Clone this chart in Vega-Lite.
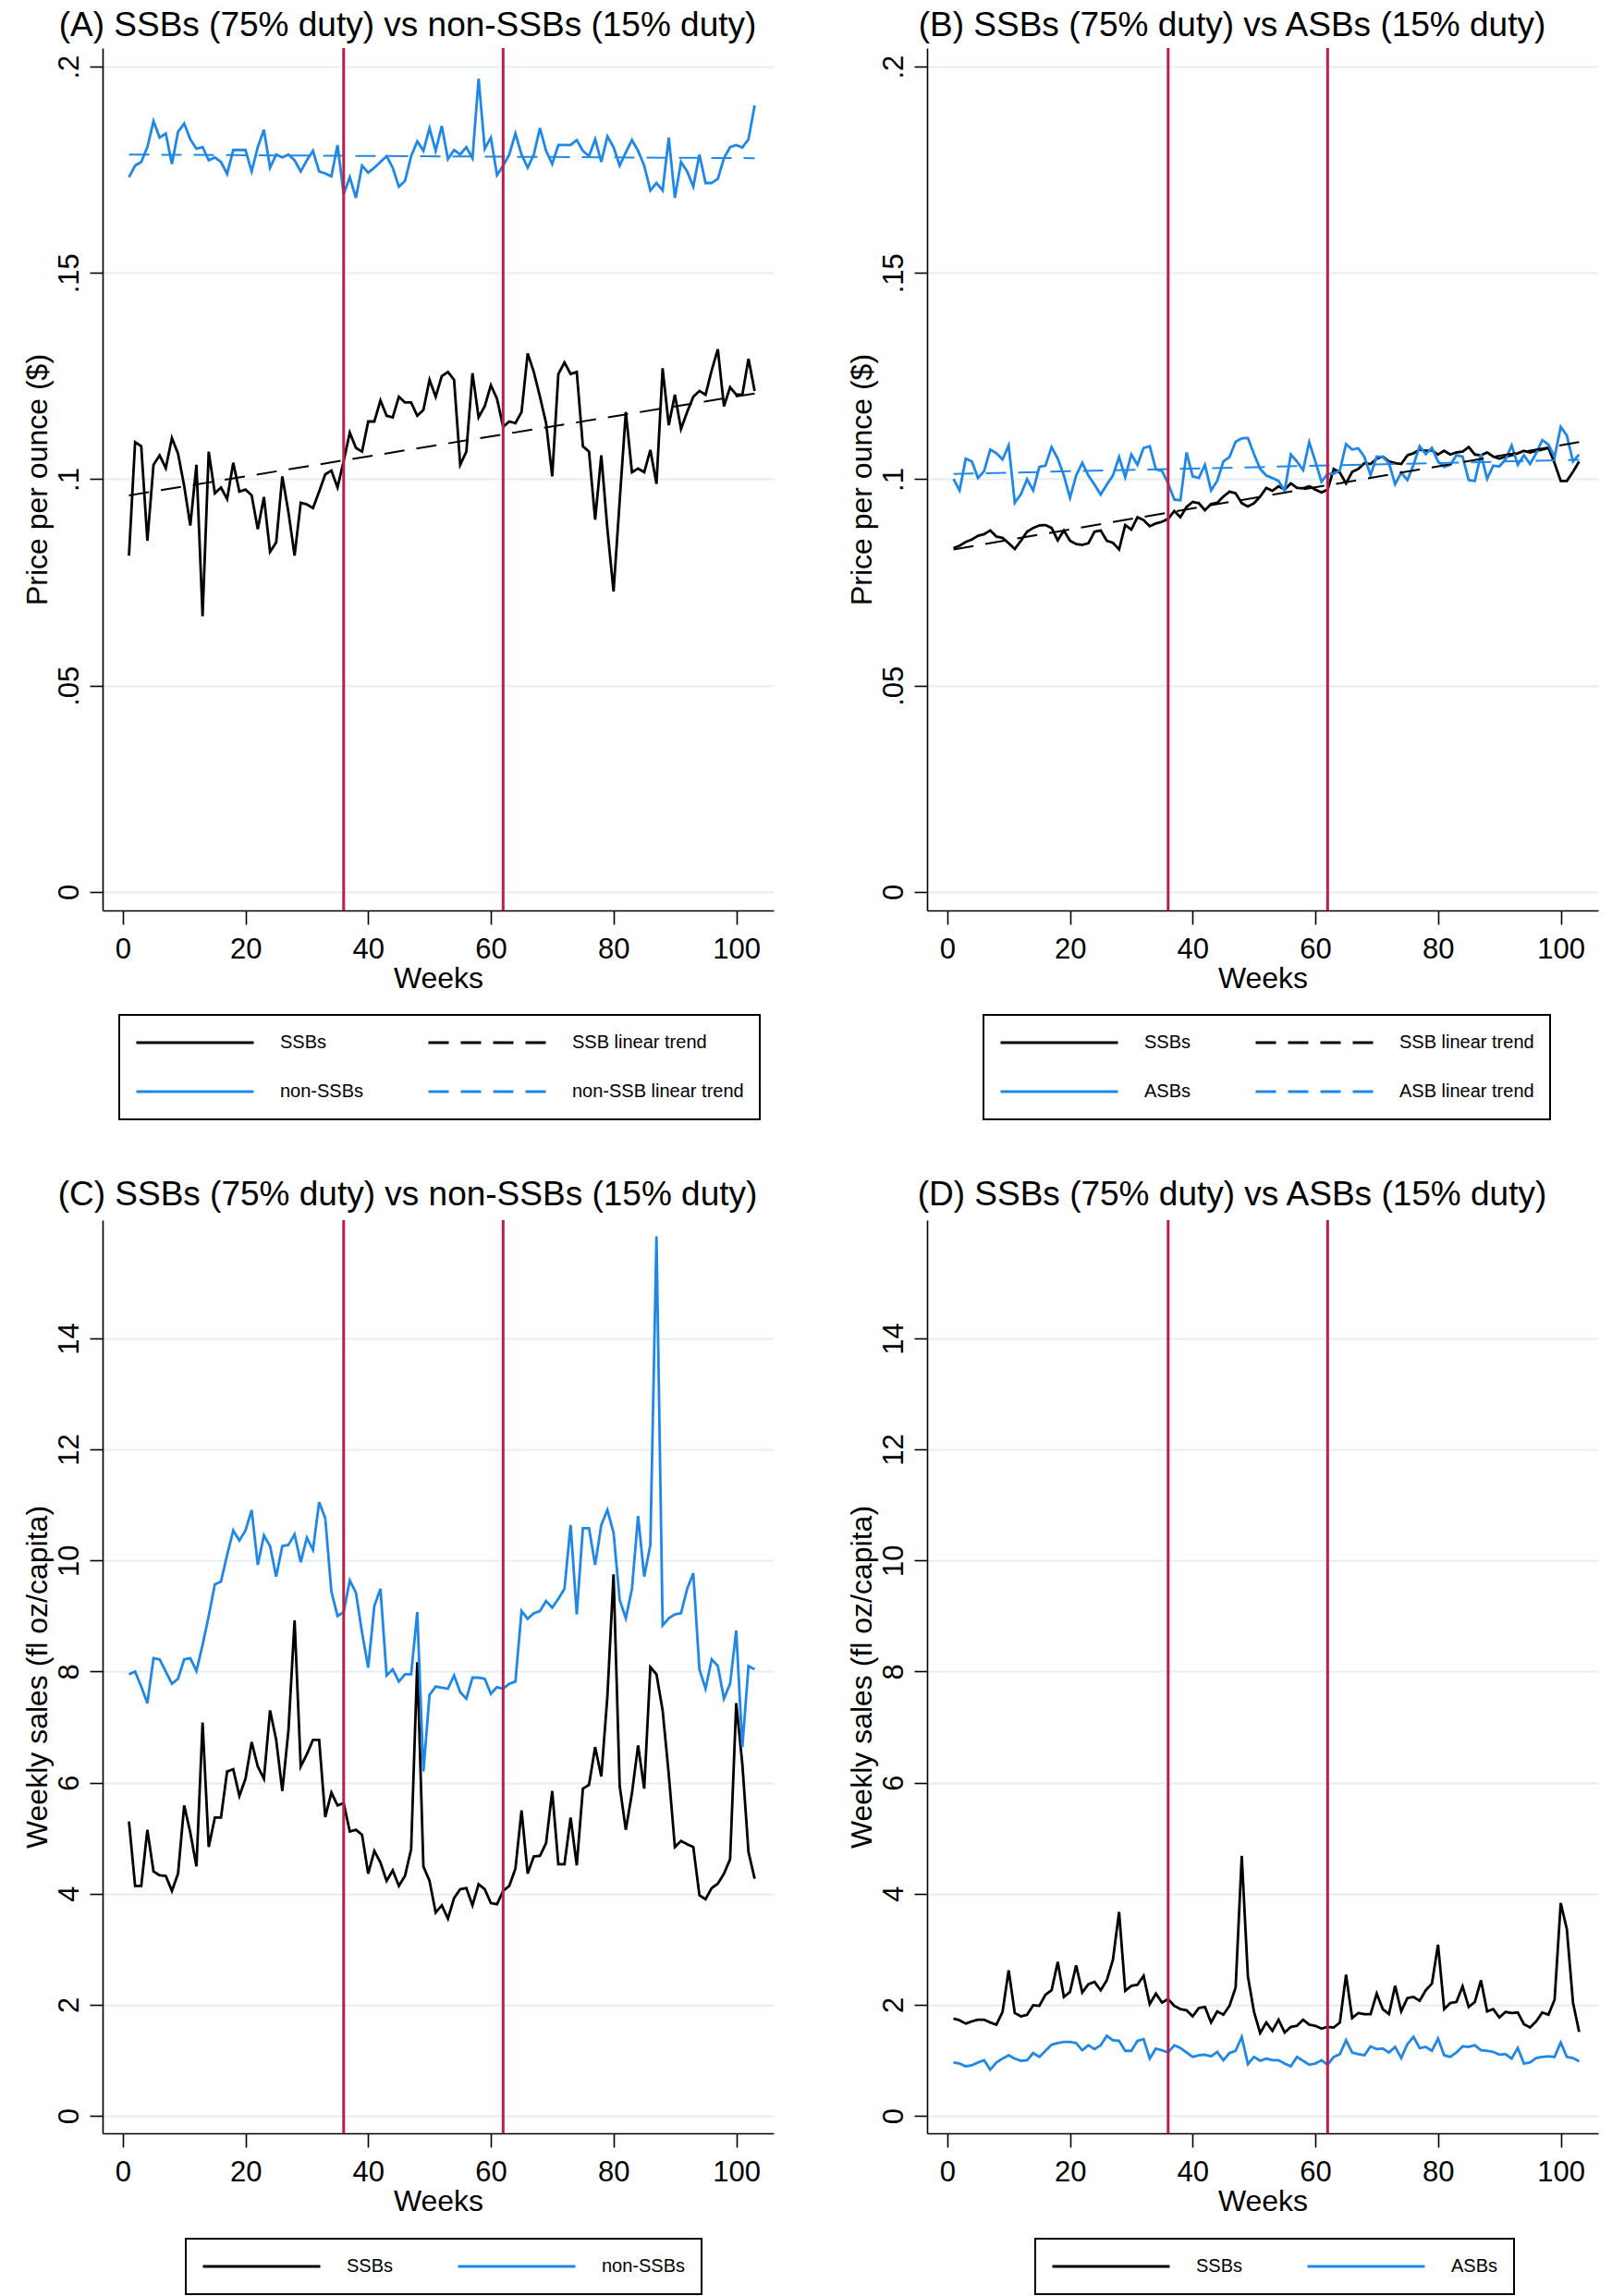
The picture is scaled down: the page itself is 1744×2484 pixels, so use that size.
{
"$schema":"https://vega.github.io/schema/vega-lite/v6.json",
"background":"white",
"padding":{"left":23,"top":8,"right":5,"bottom":2},
"columns":2,
"spacing":{"row":335,"column":166},
"bounds":"flush",
"resolve":{"scale":{"x":"independent","y":"independent","color":"independent","strokeDash":"independent"},"axis":{"x":"independent","y":"independent"},"legend":{"color":"independent","strokeDash":"independent"}},
"datasets":{
"vl":[{"w":36},{"w":62}],
"TA":[{"w":1,"s":"SSB linear trend","v":0.0961},{"w":103,"s":"SSB linear trend","v":0.1208},{"w":1,"s":"non-SSB linear trend","v":0.1787},{"w":103,"s":"non-SSB linear trend","v":0.1778}],
"TB":[{"w":1,"s":"SSB linear trend","v":0.0830},{"w":103,"s":"SSB linear trend","v":0.1090},{"w":1,"s":"ASB linear trend","v":0.1013},{"w":103,"s":"ASB linear trend","v":0.1047}],
"A":[
{"w":1,"s":"SSBs","v":0.0815},{"w":2,"s":"SSBs","v":0.109},{"w":3,"s":"SSBs","v":0.108},{"w":4,"s":"SSBs","v":0.0851},{"w":5,"s":"SSBs","v":0.1035},{"w":6,"s":"SSBs","v":0.1058},{"w":7,"s":"SSBs","v":0.1027},{"w":8,"s":"SSBs","v":0.110},{"w":9,"s":"SSBs","v":0.1062},{"w":10,"s":"SSBs","v":0.0984},
{"w":11,"s":"SSBs","v":0.0888},{"w":12,"s":"SSBs","v":0.1035},{"w":13,"s":"SSBs","v":0.0668},{"w":14,"s":"SSBs","v":0.1067},{"w":15,"s":"SSBs","v":0.0966},{"w":16,"s":"SSBs","v":0.098},{"w":17,"s":"SSBs","v":0.0952},{"w":18,"s":"SSBs","v":0.104},{"w":19,"s":"SSBs","v":0.097},{"w":20,"s":"SSBs","v":0.0975},
{"w":21,"s":"SSBs","v":0.0961},{"w":22,"s":"SSBs","v":0.0879},{"w":23,"s":"SSBs","v":0.0957},{"w":24,"s":"SSBs","v":0.0824},{"w":25,"s":"SSBs","v":0.0847},{"w":26,"s":"SSBs","v":0.1007},{"w":27,"s":"SSBs","v":0.092},{"w":28,"s":"SSBs","v":0.0815},{"w":29,"s":"SSBs","v":0.0943},{"w":30,"s":"SSBs","v":0.0939},
{"w":31,"s":"SSBs","v":0.093},{"w":32,"s":"SSBs","v":0.097},{"w":33,"s":"SSBs","v":0.1012},{"w":34,"s":"SSBs","v":0.1021},{"w":35,"s":"SSBs","v":0.098},{"w":36,"s":"SSBs","v":0.1044},{"w":37,"s":"SSBs","v":0.1113},{"w":38,"s":"SSBs","v":0.1076},{"w":39,"s":"SSBs","v":0.1067},{"w":40,"s":"SSBs","v":0.114},
{"w":41,"s":"SSBs","v":0.114},{"w":42,"s":"SSBs","v":0.1191},{"w":43,"s":"SSBs","v":0.1154},{"w":44,"s":"SSBs","v":0.115},{"w":45,"s":"SSBs","v":0.12},{"w":46,"s":"SSBs","v":0.1186},{"w":47,"s":"SSBs","v":0.1186},{"w":48,"s":"SSBs","v":0.1154},{"w":49,"s":"SSBs","v":0.1168},{"w":50,"s":"SSBs","v":0.1241},
{"w":51,"s":"SSBs","v":0.12},{"w":52,"s":"SSBs","v":0.125},{"w":53,"s":"SSBs","v":0.126},{"w":54,"s":"SSBs","v":0.1241},{"w":55,"s":"SSBs","v":0.1035},{"w":56,"s":"SSBs","v":0.1067},{"w":57,"s":"SSBs","v":0.1257},{"w":58,"s":"SSBs","v":0.115},{"w":59,"s":"SSBs","v":0.1177},{"w":60,"s":"SSBs","v":0.1228},
{"w":61,"s":"SSBs","v":0.1195},{"w":62,"s":"SSBs","v":0.1127},{"w":63,"s":"SSBs","v":0.114},{"w":64,"s":"SSBs","v":0.1136},{"w":65,"s":"SSBs","v":0.1163},{"w":66,"s":"SSBs","v":0.1305},{"w":67,"s":"SSBs","v":0.126},{"w":68,"s":"SSBs","v":0.12},{"w":69,"s":"SSBs","v":0.1136},{"w":70,"s":"SSBs","v":0.1007},
{"w":71,"s":"SSBs","v":0.1255},{"w":72,"s":"SSBs","v":0.1283},{"w":73,"s":"SSBs","v":0.1255},{"w":74,"s":"SSBs","v":0.126},{"w":75,"s":"SSBs","v":0.108},{"w":76,"s":"SSBs","v":0.1067},{"w":77,"s":"SSBs","v":0.0902},{"w":78,"s":"SSBs","v":0.1058},{"w":79,"s":"SSBs","v":0.0879},{"w":80,"s":"SSBs","v":0.0728},
{"w":81,"s":"SSBs","v":0.0948},{"w":82,"s":"SSBs","v":0.1163},{"w":83,"s":"SSBs","v":0.1017},{"w":84,"s":"SSBs","v":0.1026},{"w":85,"s":"SSBs","v":0.1017},{"w":86,"s":"SSBs","v":0.1071},{"w":87,"s":"SSBs","v":0.0989},{"w":88,"s":"SSBs","v":0.1269},{"w":89,"s":"SSBs","v":0.1131},{"w":90,"s":"SSBs","v":0.1205},
{"w":91,"s":"SSBs","v":0.1122},{"w":92,"s":"SSBs","v":0.1163},{"w":93,"s":"SSBs","v":0.12},{"w":94,"s":"SSBs","v":0.1214},{"w":95,"s":"SSBs","v":0.1205},{"w":96,"s":"SSBs","v":0.1264},{"w":97,"s":"SSBs","v":0.1315},{"w":98,"s":"SSBs","v":0.1177},{"w":99,"s":"SSBs","v":0.1223},{"w":100,"s":"SSBs","v":0.1205},
{"w":101,"s":"SSBs","v":0.1205},{"w":102,"s":"SSBs","v":0.1292},{"w":103,"s":"SSBs","v":0.1214},
{"w":1,"s":"non-SSBs","v":0.1732},{"w":2,"s":"non-SSBs","v":0.176},{"w":3,"s":"non-SSBs","v":0.1769},{"w":4,"s":"non-SSBs","v":0.1805},{"w":5,"s":"non-SSBs","v":0.1868},{"w":6,"s":"non-SSBs","v":0.1828},{"w":7,"s":"non-SSBs","v":0.1838},{"w":8,"s":"non-SSBs","v":0.1764},{"w":9,"s":"non-SSBs","v":0.1842},{"w":10,"s":"non-SSBs","v":0.1862},
{"w":11,"s":"non-SSBs","v":0.1824},{"w":12,"s":"non-SSBs","v":0.1801},{"w":13,"s":"non-SSBs","v":0.1805},{"w":14,"s":"non-SSBs","v":0.1773},{"w":15,"s":"non-SSBs","v":0.178},{"w":16,"s":"non-SSBs","v":0.1769},{"w":17,"s":"non-SSBs","v":0.174},{"w":18,"s":"non-SSBs","v":0.1798},{"w":19,"s":"non-SSBs","v":0.1798},{"w":20,"s":"non-SSBs","v":0.1798},
{"w":21,"s":"non-SSBs","v":0.1746},{"w":22,"s":"non-SSBs","v":0.1805},{"w":23,"s":"non-SSBs","v":0.1847},{"w":24,"s":"non-SSBs","v":0.1755},{"w":25,"s":"non-SSBs","v":0.1787},{"w":26,"s":"non-SSBs","v":0.178},{"w":27,"s":"non-SSBs","v":0.1787},{"w":28,"s":"non-SSBs","v":0.1773},{"w":29,"s":"non-SSBs","v":0.1746},{"w":30,"s":"non-SSBs","v":0.1773},
{"w":31,"s":"non-SSBs","v":0.1796},{"w":32,"s":"non-SSBs","v":0.1746},{"w":33,"s":"non-SSBs","v":0.1741},{"w":34,"s":"non-SSBs","v":0.1734},{"w":35,"s":"non-SSBs","v":0.181},{"w":36,"s":"non-SSBs","v":0.1691},{"w":37,"s":"non-SSBs","v":0.1732},{"w":38,"s":"non-SSBs","v":0.1682},{"w":39,"s":"non-SSBs","v":0.176},{"w":40,"s":"non-SSBs","v":0.1743},
{"w":41,"s":"non-SSBs","v":0.1755},{"w":42,"s":"non-SSBs","v":0.1769},{"w":43,"s":"non-SSBs","v":0.1783},{"w":44,"s":"non-SSBs","v":0.1755},{"w":45,"s":"non-SSBs","v":0.1709},{"w":46,"s":"non-SSBs","v":0.1723},{"w":47,"s":"non-SSBs","v":0.1783},{"w":48,"s":"non-SSBs","v":0.1819},{"w":49,"s":"non-SSBs","v":0.1796},{"w":50,"s":"non-SSBs","v":0.1851},
{"w":51,"s":"non-SSBs","v":0.1796},{"w":52,"s":"non-SSBs","v":0.1856},{"w":53,"s":"non-SSBs","v":0.1776},{"w":54,"s":"non-SSBs","v":0.1798},{"w":55,"s":"non-SSBs","v":0.1787},{"w":56,"s":"non-SSBs","v":0.1805},{"w":57,"s":"non-SSBs","v":0.1778},{"w":58,"s":"non-SSBs","v":0.1971},{"w":59,"s":"non-SSBs","v":0.1801},{"w":60,"s":"non-SSBs","v":0.1828},
{"w":61,"s":"non-SSBs","v":0.1737},{"w":62,"s":"non-SSBs","v":0.176},{"w":63,"s":"non-SSBs","v":0.1787},{"w":64,"s":"non-SSBs","v":0.1838},{"w":65,"s":"non-SSBs","v":0.1787},{"w":66,"s":"non-SSBs","v":0.1755},{"w":67,"s":"non-SSBs","v":0.1787},{"w":68,"s":"non-SSBs","v":0.1851},{"w":69,"s":"non-SSBs","v":0.1796},{"w":70,"s":"non-SSBs","v":0.1764},
{"w":71,"s":"non-SSBs","v":0.181},{"w":72,"s":"non-SSBs","v":0.181},{"w":73,"s":"non-SSBs","v":0.181},{"w":74,"s":"non-SSBs","v":0.1822},{"w":75,"s":"non-SSBs","v":0.1796},{"w":76,"s":"non-SSBs","v":0.1783},{"w":77,"s":"non-SSBs","v":0.1824},{"w":78,"s":"non-SSBs","v":0.1769},{"w":79,"s":"non-SSBs","v":0.1831},{"w":80,"s":"non-SSBs","v":0.1805},
{"w":81,"s":"non-SSBs","v":0.176},{"w":82,"s":"non-SSBs","v":0.1792},{"w":83,"s":"non-SSBs","v":0.1822},{"w":84,"s":"non-SSBs","v":0.1796},{"w":85,"s":"non-SSBs","v":0.176},{"w":86,"s":"non-SSBs","v":0.17},{"w":87,"s":"non-SSBs","v":0.1718},{"w":88,"s":"non-SSBs","v":0.17},{"w":89,"s":"non-SSBs","v":0.1828},{"w":90,"s":"non-SSBs","v":0.1682},
{"w":91,"s":"non-SSBs","v":0.1769},{"w":92,"s":"non-SSBs","v":0.1746},{"w":93,"s":"non-SSBs","v":0.1709},{"w":94,"s":"non-SSBs","v":0.1787},{"w":95,"s":"non-SSBs","v":0.1718},{"w":96,"s":"non-SSBs","v":0.1718},{"w":97,"s":"non-SSBs","v":0.1728},{"w":98,"s":"non-SSBs","v":0.1778},{"w":99,"s":"non-SSBs","v":0.1805},{"w":100,"s":"non-SSBs","v":0.181},
{"w":101,"s":"non-SSBs","v":0.1804},{"w":102,"s":"non-SSBs","v":0.1824},{"w":103,"s":"non-SSBs","v":0.1906}
],
"B":[
{"w":1,"s":"SSBs","v":0.0833},{"w":2,"s":"SSBs","v":0.0839},{"w":3,"s":"SSBs","v":0.0848},{"w":4,"s":"SSBs","v":0.0854},{"w":5,"s":"SSBs","v":0.0863},{"w":6,"s":"SSBs","v":0.0867},{"w":7,"s":"SSBs","v":0.0876},{"w":8,"s":"SSBs","v":0.0861},{"w":9,"s":"SSBs","v":0.0858},{"w":10,"s":"SSBs","v":0.0845},
{"w":11,"s":"SSBs","v":0.0831},{"w":12,"s":"SSBs","v":0.0851},{"w":13,"s":"SSBs","v":0.0873},{"w":14,"s":"SSBs","v":0.0882},{"w":15,"s":"SSBs","v":0.0888},{"w":16,"s":"SSBs","v":0.0889},{"w":17,"s":"SSBs","v":0.0882},{"w":18,"s":"SSBs","v":0.0852},{"w":19,"s":"SSBs","v":0.0876},{"w":20,"s":"SSBs","v":0.0851},
{"w":21,"s":"SSBs","v":0.0843},{"w":22,"s":"SSBs","v":0.0841},{"w":23,"s":"SSBs","v":0.0845},{"w":24,"s":"SSBs","v":0.0873},{"w":25,"s":"SSBs","v":0.0876},{"w":26,"s":"SSBs","v":0.0851},{"w":27,"s":"SSBs","v":0.0846},{"w":28,"s":"SSBs","v":0.083},{"w":29,"s":"SSBs","v":0.0889},{"w":30,"s":"SSBs","v":0.0878},
{"w":31,"s":"SSBs","v":0.0908},{"w":32,"s":"SSBs","v":0.0901},{"w":33,"s":"SSBs","v":0.0886},{"w":34,"s":"SSBs","v":0.0893},{"w":35,"s":"SSBs","v":0.0897},{"w":36,"s":"SSBs","v":0.0904},{"w":37,"s":"SSBs","v":0.0923},{"w":38,"s":"SSBs","v":0.0908},{"w":39,"s":"SSBs","v":0.0933},{"w":40,"s":"SSBs","v":0.0945},
{"w":41,"s":"SSBs","v":0.0942},{"w":42,"s":"SSBs","v":0.0925},{"w":43,"s":"SSBs","v":0.094},{"w":44,"s":"SSBs","v":0.0943},{"w":45,"s":"SSBs","v":0.0958},{"w":46,"s":"SSBs","v":0.097},{"w":47,"s":"SSBs","v":0.0966},{"w":48,"s":"SSBs","v":0.0942},{"w":49,"s":"SSBs","v":0.0934},{"w":50,"s":"SSBs","v":0.0942},
{"w":51,"s":"SSBs","v":0.0958},{"w":52,"s":"SSBs","v":0.0979},{"w":53,"s":"SSBs","v":0.0972},{"w":54,"s":"SSBs","v":0.0983},{"w":55,"s":"SSBs","v":0.0975},{"w":56,"s":"SSBs","v":0.099},{"w":57,"s":"SSBs","v":0.0979},{"w":58,"s":"SSBs","v":0.0978},{"w":59,"s":"SSBs","v":0.0983},{"w":60,"s":"SSBs","v":0.0975},
{"w":61,"s":"SSBs","v":0.0968},{"w":62,"s":"SSBs","v":0.0975},{"w":63,"s":"SSBs","v":0.1025},{"w":64,"s":"SSBs","v":0.1016},{"w":65,"s":"SSBs","v":0.099},{"w":66,"s":"SSBs","v":0.1018},{"w":67,"s":"SSBs","v":0.1025},{"w":68,"s":"SSBs","v":0.1039},{"w":69,"s":"SSBs","v":0.1037},{"w":70,"s":"SSBs","v":0.105},
{"w":71,"s":"SSBs","v":0.1055},{"w":72,"s":"SSBs","v":0.1043},{"w":73,"s":"SSBs","v":0.1039},{"w":74,"s":"SSBs","v":0.1037},{"w":75,"s":"SSBs","v":0.1058},{"w":76,"s":"SSBs","v":0.1063},{"w":77,"s":"SSBs","v":0.1072},{"w":78,"s":"SSBs","v":0.1069},{"w":79,"s":"SSBs","v":0.107},{"w":80,"s":"SSBs","v":0.106},
{"w":81,"s":"SSBs","v":0.1069},{"w":82,"s":"SSBs","v":0.106},{"w":83,"s":"SSBs","v":0.1065},{"w":84,"s":"SSBs","v":0.1067},{"w":85,"s":"SSBs","v":0.1078},{"w":86,"s":"SSBs","v":0.106},{"w":87,"s":"SSBs","v":0.1058},{"w":88,"s":"SSBs","v":0.1065},{"w":89,"s":"SSBs","v":0.1055},{"w":90,"s":"SSBs","v":0.105},
{"w":91,"s":"SSBs","v":0.1055},{"w":92,"s":"SSBs","v":0.1058},{"w":93,"s":"SSBs","v":0.1063},{"w":94,"s":"SSBs","v":0.1069},{"w":95,"s":"SSBs","v":0.1065},{"w":96,"s":"SSBs","v":0.1069},{"w":97,"s":"SSBs","v":0.1072},{"w":98,"s":"SSBs","v":0.1076},{"w":99,"s":"SSBs","v":0.1039},{"w":100,"s":"SSBs","v":0.0996},
{"w":101,"s":"SSBs","v":0.0996},{"w":102,"s":"SSBs","v":0.1018},{"w":103,"s":"SSBs","v":0.1043},
{"w":1,"s":"ASBs","v":0.1001},{"w":2,"s":"ASBs","v":0.0973},{"w":3,"s":"ASBs","v":0.105},{"w":4,"s":"ASBs","v":0.1043},{"w":5,"s":"ASBs","v":0.1003},{"w":6,"s":"ASBs","v":0.102},{"w":7,"s":"ASBs","v":0.1072},{"w":8,"s":"ASBs","v":0.1063},{"w":9,"s":"ASBs","v":0.1048},{"w":10,"s":"ASBs","v":0.1082},
{"w":11,"s":"ASBs","v":0.0943},{"w":12,"s":"ASBs","v":0.0964},{"w":13,"s":"ASBs","v":0.1},{"w":14,"s":"ASBs","v":0.0973},{"w":15,"s":"ASBs","v":0.103},{"w":16,"s":"ASBs","v":0.1033},{"w":17,"s":"ASBs","v":0.1078},{"w":18,"s":"ASBs","v":0.105},{"w":19,"s":"ASBs","v":0.1009},{"w":20,"s":"ASBs","v":0.0955},
{"w":21,"s":"ASBs","v":0.1009},{"w":22,"s":"ASBs","v":0.104},{"w":23,"s":"ASBs","v":0.1009},{"w":24,"s":"ASBs","v":0.0987},{"w":25,"s":"ASBs","v":0.0963},{"w":26,"s":"ASBs","v":0.0987},{"w":27,"s":"ASBs","v":0.1009},{"w":28,"s":"ASBs","v":0.1054},{"w":29,"s":"ASBs","v":0.1005},{"w":30,"s":"ASBs","v":0.106},
{"w":31,"s":"ASBs","v":0.1035},{"w":32,"s":"ASBs","v":0.1076},{"w":33,"s":"ASBs","v":0.108},{"w":34,"s":"ASBs","v":0.1024},{"w":35,"s":"ASBs","v":0.102},{"w":36,"s":"ASBs","v":0.099},{"w":37,"s":"ASBs","v":0.0951},{"w":38,"s":"ASBs","v":0.0949},{"w":39,"s":"ASBs","v":0.1065},{"w":40,"s":"ASBs","v":0.1007},
{"w":41,"s":"ASBs","v":0.1003},{"w":42,"s":"ASBs","v":0.1035},{"w":43,"s":"ASBs","v":0.0973},{"w":44,"s":"ASBs","v":0.0996},{"w":45,"s":"ASBs","v":0.1043},{"w":46,"s":"ASBs","v":0.1054},{"w":47,"s":"ASBs","v":0.1091},{"w":48,"s":"ASBs","v":0.1099},{"w":49,"s":"ASBs","v":0.11},{"w":50,"s":"ASBs","v":0.1061},
{"w":51,"s":"ASBs","v":0.1025},{"w":52,"s":"ASBs","v":0.1009},{"w":53,"s":"ASBs","v":0.1003},{"w":54,"s":"ASBs","v":0.0996},{"w":55,"s":"ASBs","v":0.0972},{"w":56,"s":"ASBs","v":0.106},{"w":57,"s":"ASBs","v":0.1043},{"w":58,"s":"ASBs","v":0.1022},{"w":59,"s":"ASBs","v":0.109},{"w":60,"s":"ASBs","v":0.1043},
{"w":61,"s":"ASBs","v":0.0994},{"w":62,"s":"ASBs","v":0.1013},{"w":63,"s":"ASBs","v":0.1013},{"w":64,"s":"ASBs","v":0.1022},{"w":65,"s":"ASBs","v":0.1085},{"w":66,"s":"ASBs","v":0.1072},{"w":67,"s":"ASBs","v":0.1075},{"w":68,"s":"ASBs","v":0.1054},{"w":69,"s":"ASBs","v":0.101},{"w":70,"s":"ASBs","v":0.1055},
{"w":71,"s":"ASBs","v":0.1054},{"w":72,"s":"ASBs","v":0.1039},{"w":73,"s":"ASBs","v":0.0988},{"w":74,"s":"ASBs","v":0.1016},{"w":75,"s":"ASBs","v":0.0998},{"w":76,"s":"ASBs","v":0.1035},{"w":77,"s":"ASBs","v":0.108},{"w":78,"s":"ASBs","v":0.1061},{"w":79,"s":"ASBs","v":0.1076},{"w":80,"s":"ASBs","v":0.1043},
{"w":81,"s":"ASBs","v":0.103},{"w":82,"s":"ASBs","v":0.1035},{"w":83,"s":"ASBs","v":0.1058},{"w":84,"s":"ASBs","v":0.1055},{"w":85,"s":"ASBs","v":0.0998},{"w":86,"s":"ASBs","v":0.0996},{"w":87,"s":"ASBs","v":0.1061},{"w":88,"s":"ASBs","v":0.1001},{"w":89,"s":"ASBs","v":0.1033},{"w":90,"s":"ASBs","v":0.1031},
{"w":91,"s":"ASBs","v":0.1048},{"w":92,"s":"ASBs","v":0.1082},{"w":93,"s":"ASBs","v":0.1035},{"w":94,"s":"ASBs","v":0.1058},{"w":95,"s":"ASBs","v":0.1037},{"w":96,"s":"ASBs","v":0.1063},{"w":97,"s":"ASBs","v":0.1095},{"w":98,"s":"ASBs","v":0.1084},{"w":99,"s":"ASBs","v":0.1054},{"w":100,"s":"ASBs","v":0.1127},
{"w":101,"s":"ASBs","v":0.1106},{"w":102,"s":"ASBs","v":0.1043},{"w":103,"s":"ASBs","v":0.106}
],
"C":[
{"w":1,"s":"SSBs","v":5.30},{"w":2,"s":"SSBs","v":4.14},{"w":3,"s":"SSBs","v":4.14},{"w":4,"s":"SSBs","v":5.15},{"w":5,"s":"SSBs","v":4.40},{"w":6,"s":"SSBs","v":4.33},{"w":7,"s":"SSBs","v":4.32},{"w":8,"s":"SSBs","v":4.05},{"w":9,"s":"SSBs","v":4.36},{"w":10,"s":"SSBs","v":5.59},
{"w":11,"s":"SSBs","v":5.10},{"w":12,"s":"SSBs","v":4.49},{"w":13,"s":"SSBs","v":7.08},{"w":14,"s":"SSBs","v":4.84},{"w":15,"s":"SSBs","v":5.37},{"w":16,"s":"SSBs","v":5.37},{"w":17,"s":"SSBs","v":6.20},{"w":18,"s":"SSBs","v":6.24},{"w":19,"s":"SSBs","v":5.76},{"w":20,"s":"SSBs","v":6.07},
{"w":21,"s":"SSBs","v":6.73},{"w":22,"s":"SSBs","v":6.29},{"w":23,"s":"SSBs","v":6.07},{"w":24,"s":"SSBs","v":7.30},{"w":25,"s":"SSBs","v":6.77},{"w":26,"s":"SSBs","v":5.85},{"w":27,"s":"SSBs","v":6.94},{"w":28,"s":"SSBs","v":8.92},{"w":29,"s":"SSBs","v":6.29},{"w":30,"s":"SSBs","v":6.51},
{"w":31,"s":"SSBs","v":6.77},{"w":32,"s":"SSBs","v":6.77},{"w":33,"s":"SSBs","v":5.38},{"w":34,"s":"SSBs","v":5.82},{"w":35,"s":"SSBs","v":5.59},{"w":36,"s":"SSBs","v":5.63},{"w":37,"s":"SSBs","v":5.12},{"w":38,"s":"SSBs","v":5.15},{"w":39,"s":"SSBs","v":5.06},{"w":40,"s":"SSBs","v":4.36},
{"w":41,"s":"SSBs","v":4.77},{"w":42,"s":"SSBs","v":4.56},{"w":43,"s":"SSBs","v":4.23},{"w":44,"s":"SSBs","v":4.42},{"w":45,"s":"SSBs","v":4.14},{"w":46,"s":"SSBs","v":4.32},{"w":47,"s":"SSBs","v":4.80},{"w":48,"s":"SSBs","v":8.17},{"w":49,"s":"SSBs","v":4.49},{"w":50,"s":"SSBs","v":4.23},
{"w":51,"s":"SSBs","v":3.66},{"w":52,"s":"SSBs","v":3.79},{"w":53,"s":"SSBs","v":3.55},{"w":54,"s":"SSBs","v":3.92},{"w":55,"s":"SSBs","v":4.08},{"w":56,"s":"SSBs","v":4.10},{"w":57,"s":"SSBs","v":3.79},{"w":58,"s":"SSBs","v":4.17},{"w":59,"s":"SSBs","v":4.08},{"w":60,"s":"SSBs","v":3.83},
{"w":61,"s":"SSBs","v":3.81},{"w":62,"s":"SSBs","v":4.05},{"w":63,"s":"SSBs","v":4.14},{"w":64,"s":"SSBs","v":4.45},{"w":65,"s":"SSBs","v":5.50},{"w":66,"s":"SSBs","v":4.36},{"w":67,"s":"SSBs","v":4.67},{"w":68,"s":"SSBs","v":4.68},{"w":69,"s":"SSBs","v":4.91},{"w":70,"s":"SSBs","v":5.85},
{"w":71,"s":"SSBs","v":4.53},{"w":72,"s":"SSBs","v":4.53},{"w":73,"s":"SSBs","v":5.37},{"w":74,"s":"SSBs","v":4.51},{"w":75,"s":"SSBs","v":5.89},{"w":76,"s":"SSBs","v":5.96},{"w":77,"s":"SSBs","v":6.64},{"w":78,"s":"SSBs","v":6.11},{"w":79,"s":"SSBs","v":7.56},{"w":80,"s":"SSBs","v":9.75},
{"w":81,"s":"SSBs","v":5.94},{"w":82,"s":"SSBs","v":5.15},{"w":83,"s":"SSBs","v":5.81},{"w":84,"s":"SSBs","v":6.67},{"w":85,"s":"SSBs","v":5.89},{"w":86,"s":"SSBs","v":8.08},{"w":87,"s":"SSBs","v":7.95},{"w":88,"s":"SSBs","v":7.30},{"w":89,"s":"SSBs","v":6.15},{"w":90,"s":"SSBs","v":4.84},
{"w":91,"s":"SSBs","v":4.95},{"w":92,"s":"SSBs","v":4.89},{"w":93,"s":"SSBs","v":4.84},{"w":94,"s":"SSBs","v":3.97},{"w":95,"s":"SSBs","v":3.90},{"w":96,"s":"SSBs","v":4.10},{"w":97,"s":"SSBs","v":4.18},{"w":98,"s":"SSBs","v":4.36},{"w":99,"s":"SSBs","v":4.62},{"w":100,"s":"SSBs","v":7.43},
{"w":101,"s":"SSBs","v":6.33},{"w":102,"s":"SSBs","v":4.75},{"w":103,"s":"SSBs","v":4.27},
{"w":1,"s":"non-SSBs","v":7.95},{"w":2,"s":"non-SSBs","v":8.0},{"w":3,"s":"non-SSBs","v":7.73},{"w":4,"s":"non-SSBs","v":7.43},{"w":5,"s":"non-SSBs","v":8.24},{"w":6,"s":"non-SSBs","v":8.22},{"w":7,"s":"non-SSBs","v":8.0},{"w":8,"s":"non-SSBs","v":7.78},{"w":9,"s":"non-SSBs","v":7.87},{"w":10,"s":"non-SSBs","v":8.22},
{"w":11,"s":"non-SSBs","v":8.24},{"w":12,"s":"non-SSBs","v":8.01},{"w":13,"s":"non-SSBs","v":8.48},{"w":14,"s":"non-SSBs","v":9.0},{"w":15,"s":"non-SSBs","v":9.57},{"w":16,"s":"non-SSBs","v":9.62},{"w":17,"s":"non-SSBs","v":10.1},{"w":18,"s":"non-SSBs","v":10.54},{"w":19,"s":"non-SSBs","v":10.36},{"w":20,"s":"non-SSBs","v":10.54},
{"w":21,"s":"non-SSBs","v":10.91},{"w":22,"s":"non-SSBs","v":9.92},{"w":23,"s":"non-SSBs","v":10.45},{"w":24,"s":"non-SSBs","v":10.26},{"w":25,"s":"non-SSBs","v":9.71},{"w":26,"s":"non-SSBs","v":10.26},{"w":27,"s":"non-SSBs","v":10.28},{"w":28,"s":"non-SSBs","v":10.47},{"w":29,"s":"non-SSBs","v":9.97},{"w":30,"s":"non-SSBs","v":10.41},
{"w":31,"s":"non-SSBs","v":10.19},{"w":32,"s":"non-SSBs","v":11.05},{"w":33,"s":"non-SSBs","v":10.76},{"w":34,"s":"non-SSBs","v":9.44},{"w":35,"s":"non-SSBs","v":9.0},{"w":36,"s":"non-SSBs","v":9.07},{"w":37,"s":"non-SSBs","v":9.64},{"w":38,"s":"non-SSBs","v":9.42},{"w":39,"s":"non-SSBs","v":8.70},{"w":40,"s":"non-SSBs","v":8.07},
{"w":41,"s":"non-SSBs","v":9.18},{"w":42,"s":"non-SSBs","v":9.49},{"w":43,"s":"non-SSBs","v":7.93},{"w":44,"s":"non-SSBs","v":8.04},{"w":45,"s":"non-SSBs","v":7.82},{"w":46,"s":"non-SSBs","v":7.95},{"w":47,"s":"non-SSBs","v":7.95},{"w":48,"s":"non-SSBs","v":9.07},{"w":49,"s":"non-SSBs","v":6.20},{"w":50,"s":"non-SSBs","v":7.58},
{"w":51,"s":"non-SSBs","v":7.73},{"w":52,"s":"non-SSBs","v":7.71},{"w":53,"s":"non-SSBs","v":7.69},{"w":54,"s":"non-SSBs","v":7.93},{"w":55,"s":"non-SSBs","v":7.63},{"w":56,"s":"non-SSBs","v":7.51},{"w":57,"s":"non-SSBs","v":7.89},{"w":58,"s":"non-SSBs","v":7.89},{"w":59,"s":"non-SSBs","v":7.87},{"w":60,"s":"non-SSBs","v":7.60},
{"w":61,"s":"non-SSBs","v":7.72},{"w":62,"s":"non-SSBs","v":7.69},{"w":63,"s":"non-SSBs","v":7.78},{"w":64,"s":"non-SSBs","v":7.82},{"w":65,"s":"non-SSBs","v":9.09},{"w":66,"s":"non-SSBs","v":8.95},{"w":67,"s":"non-SSBs","v":9.05},{"w":68,"s":"non-SSBs","v":9.09},{"w":69,"s":"non-SSBs","v":9.27},{"w":70,"s":"non-SSBs","v":9.15},
{"w":71,"s":"non-SSBs","v":9.31},{"w":72,"s":"non-SSBs","v":9.49},{"w":73,"s":"non-SSBs","v":10.64},{"w":74,"s":"non-SSBs","v":9.03},{"w":75,"s":"non-SSBs","v":10.58},{"w":76,"s":"non-SSBs","v":10.58},{"w":77,"s":"non-SSBs","v":9.92},{"w":78,"s":"non-SSBs","v":10.64},{"w":79,"s":"non-SSBs","v":10.91},{"w":80,"s":"non-SSBs","v":10.5},
{"w":81,"s":"non-SSBs","v":9.29},{"w":82,"s":"non-SSBs","v":8.96},{"w":83,"s":"non-SSBs","v":9.49},{"w":84,"s":"non-SSBs","v":10.80},{"w":85,"s":"non-SSBs","v":9.71},{"w":86,"s":"non-SSBs","v":10.28},{"w":87,"s":"non-SSBs","v":15.84},{"w":88,"s":"non-SSBs","v":8.83},{"w":89,"s":"non-SSBs","v":8.96},{"w":90,"s":"non-SSBs","v":9.03},
{"w":91,"s":"non-SSBs","v":9.05},{"w":92,"s":"non-SSBs","v":9.49},{"w":93,"s":"non-SSBs","v":9.77},{"w":94,"s":"non-SSBs","v":8.04},{"w":95,"s":"non-SSBs","v":7.69},{"w":96,"s":"non-SSBs","v":8.22},{"w":97,"s":"non-SSBs","v":8.10},{"w":98,"s":"non-SSBs","v":7.51},{"w":99,"s":"non-SSBs","v":7.78},{"w":100,"s":"non-SSBs","v":8.74},
{"w":101,"s":"non-SSBs","v":6.64},{"w":102,"s":"non-SSBs","v":8.10},{"w":103,"s":"non-SSBs","v":8.04}
],
"D":[
{"w":1,"s":"SSBs","v":1.75},{"w":2,"s":"SSBs","v":1.72},{"w":3,"s":"SSBs","v":1.66},{"w":4,"s":"SSBs","v":1.70},{"w":5,"s":"SSBs","v":1.73},{"w":6,"s":"SSBs","v":1.73},{"w":7,"s":"SSBs","v":1.68},{"w":8,"s":"SSBs","v":1.64},{"w":9,"s":"SSBs","v":1.87},{"w":10,"s":"SSBs","v":2.62},
{"w":11,"s":"SSBs","v":1.85},{"w":12,"s":"SSBs","v":1.79},{"w":13,"s":"SSBs","v":1.82},{"w":14,"s":"SSBs","v":1.99},{"w":15,"s":"SSBs","v":1.98},{"w":16,"s":"SSBs","v":2.18},{"w":17,"s":"SSBs","v":2.26},{"w":18,"s":"SSBs","v":2.77},{"w":19,"s":"SSBs","v":2.14},{"w":20,"s":"SSBs","v":2.23},
{"w":21,"s":"SSBs","v":2.71},{"w":22,"s":"SSBs","v":2.22},{"w":23,"s":"SSBs","v":2.37},{"w":24,"s":"SSBs","v":2.41},{"w":25,"s":"SSBs","v":2.26},{"w":26,"s":"SSBs","v":2.44},{"w":27,"s":"SSBs","v":2.81},{"w":28,"s":"SSBs","v":3.67},{"w":29,"s":"SSBs","v":2.25},{"w":30,"s":"SSBs","v":2.34},
{"w":31,"s":"SSBs","v":2.36},{"w":32,"s":"SSBs","v":2.52},{"w":33,"s":"SSBs","v":2.01},{"w":34,"s":"SSBs","v":2.20},{"w":35,"s":"SSBs","v":2.04},{"w":36,"s":"SSBs","v":2.10},{"w":37,"s":"SSBs","v":1.98},{"w":38,"s":"SSBs","v":1.92},{"w":39,"s":"SSBs","v":1.90},{"w":40,"s":"SSBs","v":1.79},
{"w":41,"s":"SSBs","v":1.94},{"w":42,"s":"SSBs","v":1.96},{"w":43,"s":"SSBs","v":1.68},{"w":44,"s":"SSBs","v":1.88},{"w":45,"s":"SSBs","v":1.82},{"w":46,"s":"SSBs","v":1.98},{"w":47,"s":"SSBs","v":2.31},{"w":48,"s":"SSBs","v":4.68},{"w":49,"s":"SSBs","v":2.51},{"w":50,"s":"SSBs","v":1.87},
{"w":51,"s":"SSBs","v":1.49},{"w":52,"s":"SSBs","v":1.68},{"w":53,"s":"SSBs","v":1.53},{"w":54,"s":"SSBs","v":1.73},{"w":55,"s":"SSBs","v":1.50},{"w":56,"s":"SSBs","v":1.60},{"w":57,"s":"SSBs","v":1.62},{"w":58,"s":"SSBs","v":1.73},{"w":59,"s":"SSBs","v":1.64},{"w":60,"s":"SSBs","v":1.62},
{"w":61,"s":"SSBs","v":1.57},{"w":62,"s":"SSBs","v":1.60},{"w":63,"s":"SSBs","v":1.59},{"w":64,"s":"SSBs","v":1.68},{"w":65,"s":"SSBs","v":2.54},{"w":66,"s":"SSBs","v":1.76},{"w":67,"s":"SSBs","v":1.85},{"w":68,"s":"SSBs","v":1.83},{"w":69,"s":"SSBs","v":1.83},{"w":70,"s":"SSBs","v":2.20},
{"w":71,"s":"SSBs","v":1.92},{"w":72,"s":"SSBs","v":1.83},{"w":73,"s":"SSBs","v":2.34},{"w":74,"s":"SSBs","v":1.88},{"w":75,"s":"SSBs","v":2.12},{"w":76,"s":"SSBs","v":2.14},{"w":77,"s":"SSBs","v":2.07},{"w":78,"s":"SSBs","v":2.26},{"w":79,"s":"SSBs","v":2.38},{"w":80,"s":"SSBs","v":3.08},
{"w":81,"s":"SSBs","v":1.92},{"w":82,"s":"SSBs","v":2.03},{"w":83,"s":"SSBs","v":2.05},{"w":84,"s":"SSBs","v":2.33},{"w":85,"s":"SSBs","v":1.96},{"w":86,"s":"SSBs","v":2.05},{"w":87,"s":"SSBs","v":2.44},{"w":88,"s":"SSBs","v":1.88},{"w":89,"s":"SSBs","v":1.92},{"w":90,"s":"SSBs","v":1.77},
{"w":91,"s":"SSBs","v":1.87},{"w":92,"s":"SSBs","v":1.85},{"w":93,"s":"SSBs","v":1.86},{"w":94,"s":"SSBs","v":1.65},{"w":95,"s":"SSBs","v":1.59},{"w":96,"s":"SSBs","v":1.70},{"w":97,"s":"SSBs","v":1.86},{"w":98,"s":"SSBs","v":1.82},{"w":99,"s":"SSBs","v":2.09},{"w":100,"s":"SSBs","v":3.83},
{"w":101,"s":"SSBs","v":3.36},{"w":102,"s":"SSBs","v":2.04},{"w":103,"s":"SSBs","v":1.51},
{"w":1,"s":"ASBs","v":0.96},{"w":2,"s":"ASBs","v":0.94},{"w":3,"s":"ASBs","v":0.89},{"w":4,"s":"ASBs","v":0.91},{"w":5,"s":"ASBs","v":0.96},{"w":6,"s":"ASBs","v":1.00},{"w":7,"s":"ASBs","v":0.83},{"w":8,"s":"ASBs","v":0.96},{"w":9,"s":"ASBs","v":1.03},{"w":10,"s":"ASBs","v":1.09},
{"w":11,"s":"ASBs","v":1.03},{"w":12,"s":"ASBs","v":0.99},{"w":13,"s":"ASBs","v":1.00},{"w":14,"s":"ASBs","v":1.13},{"w":15,"s":"ASBs","v":1.06},{"w":16,"s":"ASBs","v":1.17},{"w":17,"s":"ASBs","v":1.28},{"w":18,"s":"ASBs","v":1.31},{"w":19,"s":"ASBs","v":1.33},{"w":20,"s":"ASBs","v":1.33},
{"w":21,"s":"ASBs","v":1.31},{"w":22,"s":"ASBs","v":1.18},{"w":23,"s":"ASBs","v":1.27},{"w":24,"s":"ASBs","v":1.20},{"w":25,"s":"ASBs","v":1.27},{"w":26,"s":"ASBs","v":1.44},{"w":27,"s":"ASBs","v":1.36},{"w":28,"s":"ASBs","v":1.35},{"w":29,"s":"ASBs","v":1.17},{"w":30,"s":"ASBs","v":1.17},
{"w":31,"s":"ASBs","v":1.35},{"w":32,"s":"ASBs","v":1.38},{"w":33,"s":"ASBs","v":1.03},{"w":34,"s":"ASBs","v":1.21},{"w":35,"s":"ASBs","v":1.18},{"w":36,"s":"ASBs","v":1.14},{"w":37,"s":"ASBs","v":1.27},{"w":38,"s":"ASBs","v":1.22},{"w":39,"s":"ASBs","v":1.14},{"w":40,"s":"ASBs","v":1.06},
{"w":41,"s":"ASBs","v":1.09},{"w":42,"s":"ASBs","v":1.10},{"w":43,"s":"ASBs","v":1.07},{"w":44,"s":"ASBs","v":1.15},{"w":45,"s":"ASBs","v":1.00},{"w":46,"s":"ASBs","v":1.13},{"w":47,"s":"ASBs","v":1.17},{"w":48,"s":"ASBs","v":1.42},{"w":49,"s":"ASBs","v":0.93},{"w":50,"s":"ASBs","v":1.06},
{"w":51,"s":"ASBs","v":0.99},{"w":52,"s":"ASBs","v":1.03},{"w":53,"s":"ASBs","v":1.00},{"w":54,"s":"ASBs","v":1.00},{"w":55,"s":"ASBs","v":0.94},{"w":56,"s":"ASBs","v":0.89},{"w":57,"s":"ASBs","v":1.06},{"w":58,"s":"ASBs","v":0.99},{"w":59,"s":"ASBs","v":0.92},{"w":60,"s":"ASBs","v":0.94},
{"w":61,"s":"ASBs","v":1.00},{"w":62,"s":"ASBs","v":0.92},{"w":63,"s":"ASBs","v":1.06},{"w":64,"s":"ASBs","v":1.11},{"w":65,"s":"ASBs","v":1.36},{"w":66,"s":"ASBs","v":1.14},{"w":67,"s":"ASBs","v":1.11},{"w":68,"s":"ASBs","v":1.09},{"w":69,"s":"ASBs","v":1.25},{"w":70,"s":"ASBs","v":1.20},
{"w":71,"s":"ASBs","v":1.21},{"w":72,"s":"ASBs","v":1.14},{"w":73,"s":"ASBs","v":1.24},{"w":74,"s":"ASBs","v":1.04},{"w":75,"s":"ASBs","v":1.29},{"w":76,"s":"ASBs","v":1.42},{"w":77,"s":"ASBs","v":1.22},{"w":78,"s":"ASBs","v":1.24},{"w":79,"s":"ASBs","v":1.17},{"w":80,"s":"ASBs","v":1.39},
{"w":81,"s":"ASBs","v":1.09},{"w":82,"s":"ASBs","v":1.06},{"w":83,"s":"ASBs","v":1.14},{"w":84,"s":"ASBs","v":1.25},{"w":85,"s":"ASBs","v":1.24},{"w":86,"s":"ASBs","v":1.27},{"w":87,"s":"ASBs","v":1.18},{"w":88,"s":"ASBs","v":1.17},{"w":89,"s":"ASBs","v":1.15},{"w":90,"s":"ASBs","v":1.10},
{"w":91,"s":"ASBs","v":1.11},{"w":92,"s":"ASBs","v":1.03},{"w":93,"s":"ASBs","v":1.22},{"w":94,"s":"ASBs","v":0.94},{"w":95,"s":"ASBs","v":0.96},{"w":96,"s":"ASBs","v":1.04},{"w":97,"s":"ASBs","v":1.06},{"w":98,"s":"ASBs","v":1.07},{"w":99,"s":"ASBs","v":1.06},{"w":100,"s":"ASBs","v":1.32},
{"w":101,"s":"ASBs","v":1.06},{"w":102,"s":"ASBs","v":1.04},{"w":103,"s":"ASBs","v":0.98}
]
},
"concat":[
{
"width":726,"height":933,
"title":{"text":"(A) SSBs (75% duty) vs non-SSBs (15% duty)","anchor":"middle","dx":-33,"offset":-25,"baseline":"alphabetic"},
"layer":[
{"data":{"name":"A"},"mark":{"type":"line","strokeWidth":2.8},
"encoding":{
"x":{"field":"w","type":"quantitative","scale":{"domain":[-3.3,106.1],"nice":false,"zero":false},"axis":{"title":"Weeks","values":[0,20,40,60,80,100]}},
"y":{"field":"v","type":"quantitative","scale":{"domain":[-0.0045,0.2045],"nice":false,"zero":false},"axis":{"title":"Price per ounce ($)","values":[0,0.05,0.1,0.15,0.2],"format":".2~f","labelExpr":"replace(datum.label,'0.','.')"}},
"color":{"field":"s","type":"nominal","title":null,"scale":{"domain":["SSBs","non-SSBs","SSB linear trend","non-SSB linear trend"],"range":["#000000","#1f87e8","#000000","#1f87e8"]},"legend":{"legendX":18,"legendY":1046}},
"strokeDash":{"field":"s","type":"nominal","title":null,"scale":{"domain":["SSBs","non-SSBs","SSB linear trend","non-SSB linear trend"],"range":[[1,0],[1,0],[22,13],[22,13]]},"legend":{"legendX":18,"legendY":1046}}}},
{"data":{"name":"TA"},"mark":{"type":"line","strokeWidth":2},
"encoding":{
"x":{"field":"w","type":"quantitative"},
"y":{"field":"v","type":"quantitative"},
"color":{"field":"s","type":"nominal","title":null},
"strokeDash":{"field":"s","type":"nominal","title":null}}},
{"data":{"name":"vl"},"mark":{"type":"rule","color":"#bd1f47","strokeWidth":3},"encoding":{"x":{"field":"w","type":"quantitative"}}}
]
},
{
"width":726,"height":933,
"title":{"text":"(B) SSBs (75% duty) vs ASBs (15% duty)","anchor":"middle","dx":-33,"offset":-25,"baseline":"alphabetic"},
"layer":[
{"data":{"name":"B"},"mark":{"type":"line","strokeWidth":2.8},
"encoding":{
"x":{"field":"w","type":"quantitative","scale":{"domain":[-3.3,106.1],"nice":false,"zero":false},"axis":{"title":"Weeks","values":[0,20,40,60,80,100]}},
"y":{"field":"v","type":"quantitative","scale":{"domain":[-0.0045,0.2045],"nice":false,"zero":false},"axis":{"title":"Price per ounce ($)","values":[0,0.05,0.1,0.15,0.2],"format":".2~f","labelExpr":"replace(datum.label,'0.','.')"}},
"color":{"field":"s","type":"nominal","title":null,"scale":{"domain":["SSBs","ASBs","SSB linear trend","ASB linear trend"],"range":["#000000","#1f87e8","#000000","#1f87e8"]},"legend":{"legendX":61,"legendY":1046}},
"strokeDash":{"field":"s","type":"nominal","title":null,"scale":{"domain":["SSBs","ASBs","SSB linear trend","ASB linear trend"],"range":[[1,0],[1,0],[22,13],[22,13]]},"legend":{"legendX":61,"legendY":1046}}}},
{"data":{"name":"TB"},"mark":{"type":"line","strokeWidth":2},
"encoding":{
"x":{"field":"w","type":"quantitative"},
"y":{"field":"v","type":"quantitative"},
"color":{"field":"s","type":"nominal","title":null},
"strokeDash":{"field":"s","type":"nominal","title":null}}},
{"data":{"name":"vl"},"mark":{"type":"rule","color":"#bd1f47","strokeWidth":3},"encoding":{"x":{"field":"w","type":"quantitative"}}}
]
},
{
"width":726,"height":988,
"title":{"text":"(C) SSBs (75% duty) vs non-SSBs (15% duty)","anchor":"middle","dx":-33,"offset":-22,"baseline":"alphabetic"},
"layer":[
{"data":{"name":"C"},"mark":{"type":"line","strokeWidth":2.8},
"encoding":{
"x":{"field":"w","type":"quantitative","scale":{"domain":[-3.3,106.1],"nice":false,"zero":false},"axis":{"title":"Weeks","values":[0,20,40,60,80,100]}},
"y":{"field":"v","type":"quantitative","scale":{"domain":[-0.316,16.13],"nice":false,"zero":false},"axis":{"title":"Weekly sales (fl oz/capita)","values":[0,2,4,6,8,10,12,14]}},
"color":{"field":"s","type":"nominal","title":null,"scale":{"domain":["SSBs","non-SSBs"],"range":["#000000","#1f87e8"]},"legend":{"legendX":90,"legendY":1102}},
"strokeDash":{"field":"s","type":"nominal","title":null,"scale":{"domain":["SSBs","non-SSBs"],"range":[[1,0],[1,0]]},"legend":{"legendX":90,"legendY":1102}}}},
{"data":{"name":"vl"},"mark":{"type":"rule","color":"#bd1f47","strokeWidth":3},"encoding":{"x":{"field":"w","type":"quantitative"}}}
]
},
{
"width":726,"height":988,
"title":{"text":"(D) SSBs (75% duty) vs ASBs (15% duty)","anchor":"middle","dx":-33,"offset":-22,"baseline":"alphabetic"},
"layer":[
{"data":{"name":"D"},"mark":{"type":"line","strokeWidth":2.8},
"encoding":{
"x":{"field":"w","type":"quantitative","scale":{"domain":[-3.3,106.1],"nice":false,"zero":false},"axis":{"title":"Weeks","values":[0,20,40,60,80,100]}},
"y":{"field":"v","type":"quantitative","scale":{"domain":[-0.316,16.13],"nice":false,"zero":false},"axis":{"title":"Weekly sales (fl oz/capita)","values":[0,2,4,6,8,10,12,14]}},
"color":{"field":"s","type":"nominal","title":null,"scale":{"domain":["SSBs","ASBs"],"range":["#000000","#1f87e8"]},"legend":{"legendX":117,"legendY":1102}},
"strokeDash":{"field":"s","type":"nominal","title":null,"scale":{"domain":["SSBs","ASBs"],"range":[[1,0],[1,0]]},"legend":{"legendX":117,"legendY":1102}}}},
{"data":{"name":"vl"},"mark":{"type":"rule","color":"#bd1f47","strokeWidth":3},"encoding":{"x":{"field":"w","type":"quantitative"}}}
]
}
],
"config":{
"view":{"stroke":null},
"font":"Liberation Sans",
"title":{"font":"Liberation Sans","fontSize":37,"fontWeight":"normal","color":"#000000"},
"axis":{"domainColor":"#000000","domainWidth":1.6,"tickColor":"#000000","tickWidth":1.6,"labelColor":"#000000","titleColor":"#000000","labelFont":"Liberation Sans","titleFont":"Liberation Sans","labelFontSize":31,"titleFontSize":32,"titleFontWeight":"normal","labelFlush":false,"labelOverlap":false},
"axisX":{"grid":false,"tickSize":15,"labelPadding":12,"titlePadding":1},
"axisY":{"grid":true,"gridColor":"#e4edf0","gridWidth":2,"tickSize":14,"labelAngle":-90,"labelAlign":"center","labelBaseline":"bottom","labelPadding":6,"titlePadding":2},
"legend":{"orient":"none","labelFont":"Liberation Sans","labelFontSize":20,"labelColor":"#000000","labelLimit":400,"symbolType":"stroke","symbolSize":16129,"symbolStrokeWidth":3,"clipHeight":26,"rowPadding":27,"columnPadding":68,"labelOffset":27,"padding":17,"strokeColor":"#000000","strokeWidth":2,"columns":2,"symbolOpacity":1}
}
}
